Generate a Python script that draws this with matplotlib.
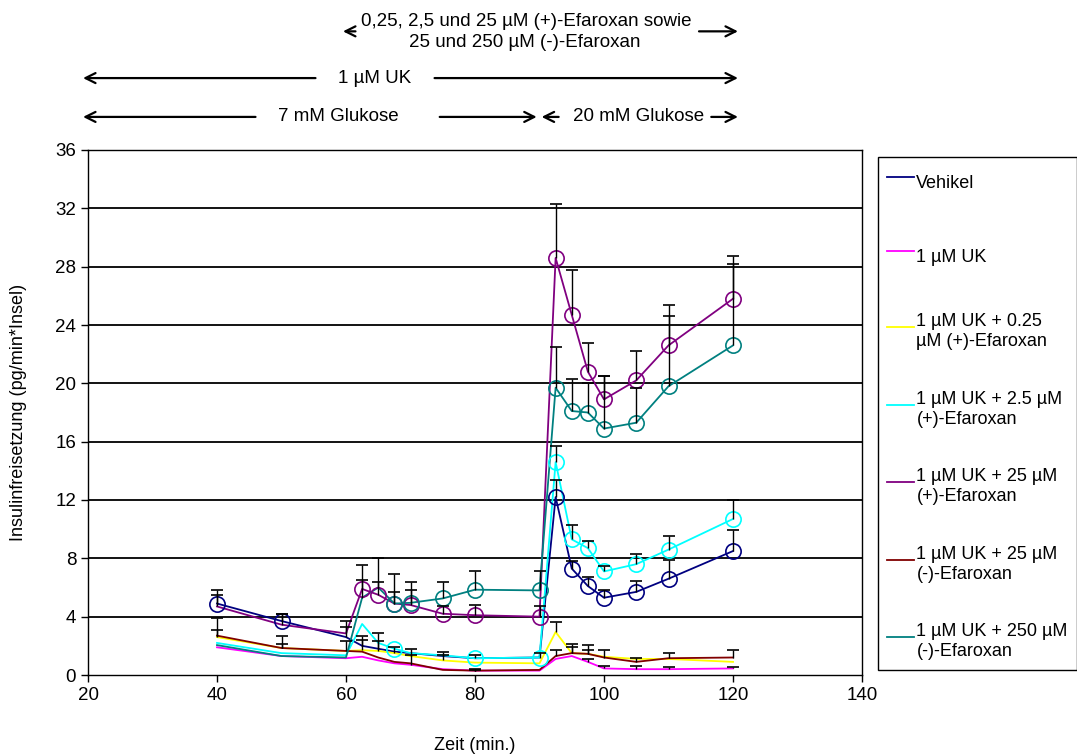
"""
Insulinfreisetzung perifundierter Inseln: UK 14304 mit/ohne Efaroxan.
Writes out.png.
"""

import numpy as np
import matplotlib
matplotlib.use("Agg")
import matplotlib.pyplot as plt
from matplotlib.transforms import blended_transform_factory

plt.rcParams["font.family"] = ["Liberation Sans", "DejaVu Sans"]

# sampling times (min.)
zeit = [40, 50, 60, 62.5, 65, 67.5, 70, 75, 80, 90, 92.5, 95, 97.5, 100, 105, 110, 120]

# mean insulin release (pg/min*Insel) and upper SEM per group (0 = bar hidden in line)
vehikel = [4.9, 3.7, 2.6, 2.0, 1.8, 1.6, 1.5, 1.3, 1.15, 1.2, 12.2, 7.3, 6.1, 5.3, 5.7, 6.6, 8.5]
vehikel_err = [0.9, 0.5, 0.7, 0.7, 1.05, 0, 0, 0.3, 0.22, 0.3, 1.2, 0.5, 0.6, 0.5, 0.75, 1.3, 1.45]

uk = [1.9, 1.3, 1.15, 1.25, 1.0, 0.8, 0.7, 0.4, 0.3, 0.3, 1.1, 1.3, 0.9, 0.45, 0.4, 0.4, 0.45]
uk_err = [0, 0, 0, 0, 0, 0, 0.65, 0, 0.1, 0, 0, 0, 0.17, 0.15, 0.2, 0.15, 0.1]

efa_p025 = [2.6, 1.85, 1.65, 1.7, 1.65, 1.5, 1.3, 1.0, 0.85, 0.8, 2.95, 1.5, 1.45, 1.25, 1.1, 1.1, 0.9]
efa_p025_err = [0.5, 0.3, 0, 0.7, 0.65, 0.4, 0.45, 0.4, 0, 0, 0.7, 0.4, 0.25, 0, 0, 0, 0]

efa_p25 = [2.2, 1.5, 1.35, 3.5, 2.2, 1.8, 1.5, 1.35, 1.15, 1.2, 14.6, 9.3, 8.7, 7.1, 7.6, 8.6, 10.7]
efa_p25_err = [0, 0, 0, 0, 0, 0, 0, 0, 0, 0, 1.1, 1.0, 0.5, 0.4, 0.7, 0.9, 1.3]

efa_p250 = [4.7, 3.45, 2.85, 5.9, 5.5, 4.9, 4.8, 4.2, 4.1, 4.0, 28.6, 24.7, 20.8, 18.9, 20.2, 22.6, 25.8]
efa_p250_err = [0.8, 0.7, 0.85, 1.65, 0.9, 0.8, 1.0, 0.5, 0.7, 0.7, 3.7, 3.1, 1.95, 1.6, 2.0, 2.8, 2.9]

efa_m25 = [2.7, 1.85, 1.65, 1.6, 1.2, 0.9, 0.8, 0.35, 0.3, 0.35, 1.3, 1.5, 1.45, 1.2, 0.9, 1.15, 1.2]
efa_m25_err = [1.2, 0.8, 0.65, 0, 0, 0, 0, 0, 0.05, 0, 0.4, 0.6, 0.6, 0.5, 0.3, 0.35, 0.5]

efa_m250 = [2.05, 1.3, 1.2, 5.3, 6.0, 4.9, 4.95, 5.25, 5.85, 5.8, 19.7, 18.1, 18.0, 16.9, 17.3, 19.8, 22.6]
efa_m250_err = [0, 0, 0, 1.2, 2.0, 2.0, 1.4, 1.1, 1.25, 1.3, 2.8, 2.2, 2.0, 3.6, 2.4, 4.8, 5.6]

gruppen = [
    "Vehikel",
    "1 µM UK",
    "1 µM UK + 0.25\nµM (+)-Efaroxan",
    "1 µM UK + 2.5 µM\n(+)-Efaroxan",
    "1 µM UK + 25 µM\n(+)-Efaroxan",
    "1 µM UK + 25 µM\n(-)-Efaroxan",
    "1 µM UK + 250 µM\n(-)-Efaroxan",
]
werte = [vehikel, uk, efa_p025, efa_p25, efa_p250, efa_m25, efa_m250]
fehler = [vehikel_err, uk_err, efa_p025_err, efa_p25_err, efa_p250_err, efa_m25_err, efa_m250_err]

# points flagged with an open circle (index into zeit)
kreise = [
    [0, 1, 10, 11, 12, 13, 14, 15, 16],
    [],
    [],
    [5, 8, 9, 10, 11, 12, 13, 14, 15, 16],
    [3, 4, 5, 6, 7, 8, 9, 10, 11, 12, 13, 14, 15, 16],
    [],
    [5, 6, 7, 8, 9, 10, 11, 12, 13, 14, 15, 16],
]

farben = ["#000080", "#ff00ff", "#ffff00", "#00ffff", "#800080", "#800000", "#008080"]

fig = plt.figure(figsize=(10.77, 7.56), dpi=100)
ax = fig.add_axes([88 / 1077, 81 / 756, 774 / 1077, 525 / 756])

for y in range(4, 36, 4):
    ax.axhline(y, color="black", lw=1.3, zorder=1)

handles = []
for name, y, err, mk, col in zip(gruppen, werte, fehler, kreise, farben):
    x = np.array(zeit)
    y = np.array(y)
    err = np.array(err)
    line, = ax.plot(x, y, color=col, lw=1.3, zorder=3, label=name)
    if mk:
        ax.plot(x[mk], y[mk], ls="none", marker="o", ms=11, mfc="none",
                mec=col, mew=1.2, zorder=4)
    sel = err > 0
    top = y + err
    ax.vlines(x[sel], y[sel], top[sel], color="black", lw=1, zorder=5)
    ax.plot(x[sel], top[sel], ls="none", marker="_", ms=8, mew=1.2,
            color="black", zorder=5)
    handles.append(line)

ax.set_xlim(20, 140)
ax.set_ylim(0, 36)
ax.set_xticks(range(20, 141, 20))
ax.set_yticks(range(0, 37, 4))
ax.tick_params(direction="out", length=5, width=1, labelsize=13.5, colors="black")
for s in ax.spines.values():
    s.set_linewidth(1)
    s.set_color("black")

ax.set_xlabel("Zeit (min.)", fontsize=13, labelpad=24)
ax.set_ylabel("Insulinfreisetzung (pg/min*Insel)", fontsize=13, labelpad=20)

# treatment periods above the plot
trans = blended_transform_factory(ax.transData, ax.transAxes)
pfeil = dict(arrowstyle="->", lw=1.6, color="black", mutation_scale=18)


def periode(x0, x1, yy):
    ax.annotate("", xy=(x1, yy), xytext=(x0, yy), xycoords=trans,
                textcoords=trans, arrowprops=pfeil, annotation_clip=False)


def beschriftung(xx, yy, txt):
    ax.text(xx, yy, txt, transform=trans, ha="center", va="center",
            fontsize=13.5, clip_on=False)


# Efaroxan
periode(61.9, 59.1, 1.226)
periode(114.3, 121.2, 1.226)
beschriftung(87.9, 1.245, "0,25, 2,5 und 25 µM (+)-Efaroxan sowie")
beschriftung(87.7, 1.204, "25 und 250 µM (-)-Efaroxan")
# UK
periode(55.7, 18.8, 1.137)
periode(73.3, 121.2, 1.137)
beschriftung(64.5, 1.137, "1 µM UK")
# glucose
periode(46.4, 18.8, 1.063)
beschriftung(58.8, 1.063, "7 mM Glukose")
periode(74.1, 90.0, 1.063)
periode(93.4, 89.9, 1.063)
beschriftung(105.3, 1.063, "20 mM Glukose")
periode(116.2, 121.2, 1.063)

# every entry gets a two-line slot so the rows are evenly spaced
leg = fig.legend(handles=handles, loc="upper left",
                 bbox_to_anchor=(878 / 1077, 1 - 157 / 756),
                 fontsize=13, frameon=True, fancybox=False, framealpha=1,
                 edgecolor="black", handlelength=1.45, handletextpad=0.15,
                 handleheight=2.4, labelspacing=2.265, borderpad=0.526,
                 borderaxespad=0)
leg.get_frame().set_linewidth(1)

fig.savefig("out.png", dpi=100, facecolor="white")
